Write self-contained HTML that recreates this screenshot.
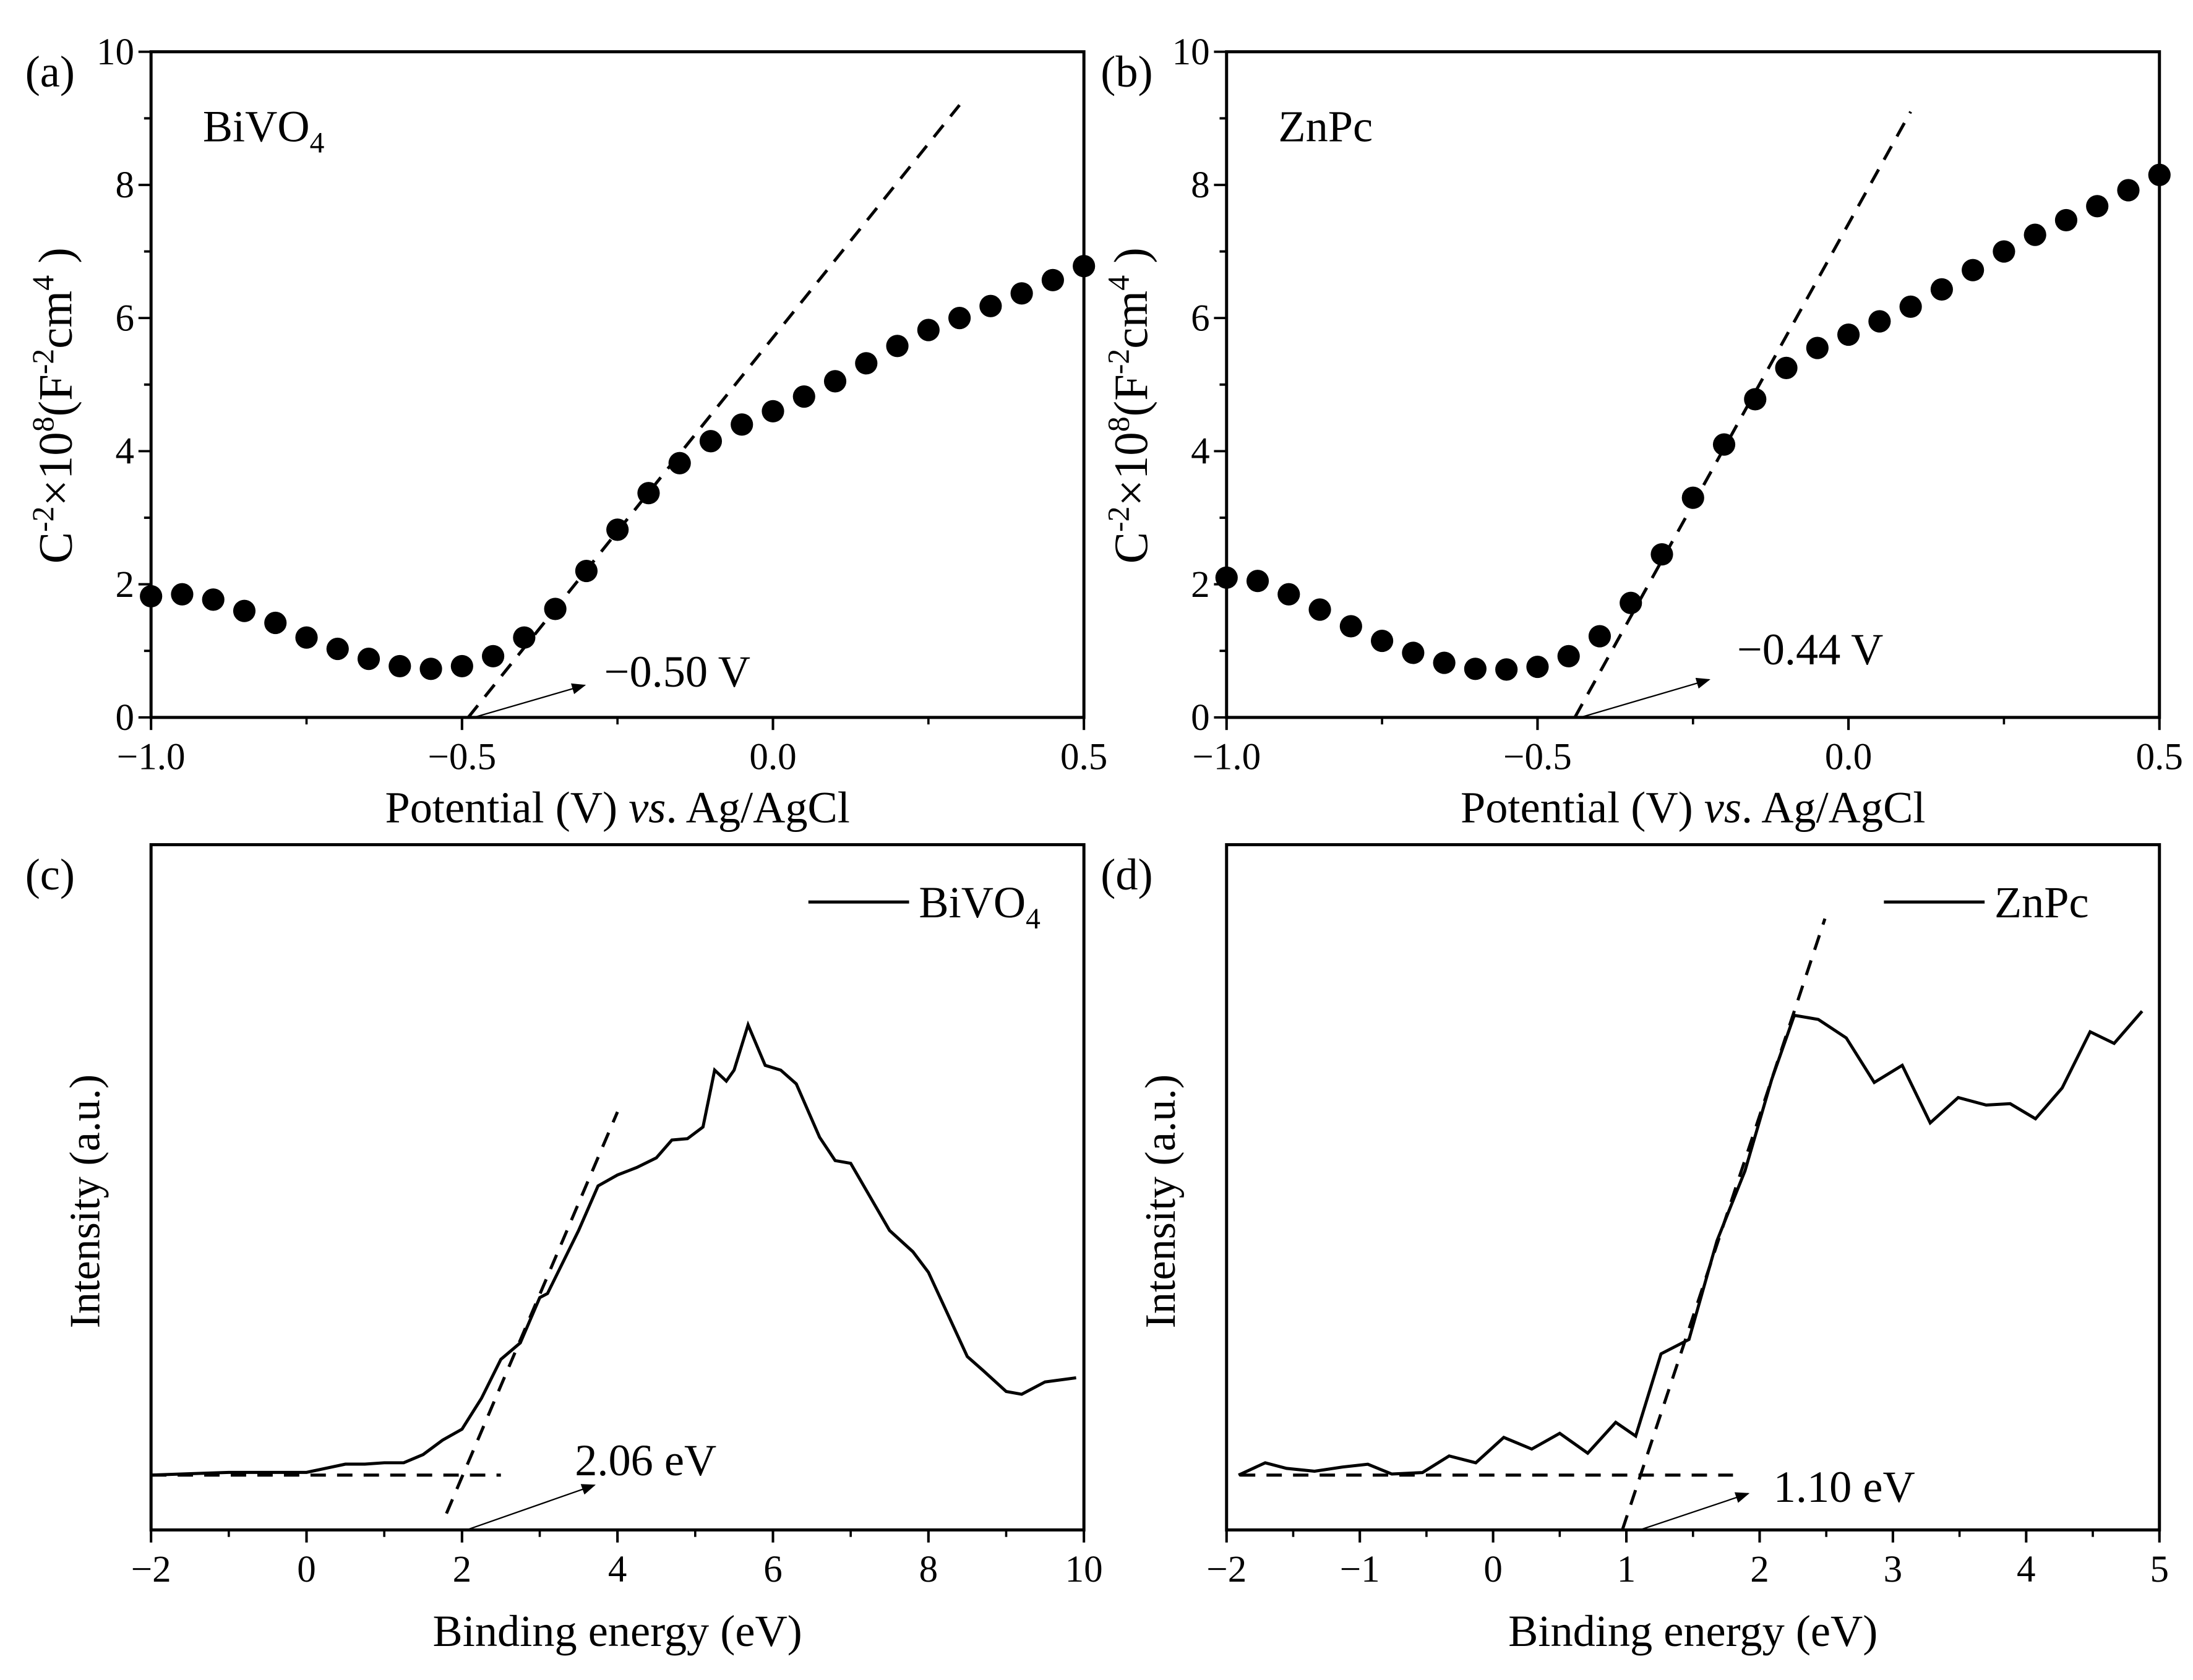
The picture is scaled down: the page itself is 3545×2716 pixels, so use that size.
<!DOCTYPE html>
<html><head><meta charset="utf-8">
<style>
html,body{margin:0;padding:0;background:#fff;}
svg{display:block;}
text{font-family:"Liberation Serif",serif;fill:#000;}
</style></head>
<body>
<svg id="fig" width="3545" height="2716" viewBox="0 0 1568 1201.3" xmlns="http://www.w3.org/2000/svg">
<defs>
<marker id="arr" markerWidth="10" markerHeight="8" refX="9" refY="4" orient="auto" markerUnits="userSpaceOnUse">
<path d="M0,0 L10,4 L0,8 Z" fill="#000"/>
</marker>
</defs>
<g id="root"></g>
</svg>
<script>
// Panel (a) BiVO4 Mott-Schottky
const aPotential = [-1.0,-0.95,-0.9,-0.85,-0.8,-0.75,-0.7,-0.65,-0.6,-0.55,-0.5,-0.45,-0.4,-0.35,-0.3,-0.25,-0.2,-0.15,-0.1,-0.05,0,0.05,0.1,0.15,0.2,0.25,0.3,0.35,0.4,0.45,0.5];
const aValues = [1.82,1.85,1.77,1.6,1.42,1.2,1.03,0.88,0.77,0.73,0.77,0.92,1.2,1.63,2.2,2.82,3.37,3.82,4.15,4.4,4.6,4.82,5.05,5.32,5.58,5.82,6.0,6.18,6.37,6.57,6.78];
const aFitX = [-0.49,0.3];
const aFitY = [0,9.2];
// Panel (b) ZnPc Mott-Schottky
const bPotential = aPotential.slice();
const bValues = [2.1,2.05,1.85,1.62,1.37,1.15,0.97,0.82,0.73,0.72,0.76,0.92,1.22,1.72,2.45,3.3,4.1,4.78,5.25,5.55,5.75,5.95,6.17,6.43,6.72,7.0,7.25,7.47,7.68,7.92,8.15];
const bFitX = [-0.44,0.1];
const bFitY = [0,9.1];
const msXTicks = [-1.0,-0.5,0.0,0.5];
const msXTickLabels = ["\u22121.0","\u22120.5","0.0","0.5"];
const msYTicks = [0,2,4,6,8,10];
// Panel (c) BiVO4 VB-XPS
const cEnergy = [-2,-1.5,-1,-0.5,0,0.25,0.5,0.75,1,1.25,1.5,1.75,2,2.25,2.5,2.75,3,3.1,3.5,3.75,4,4.25,4.5,4.7,4.9,5.1,5.25,5.4,5.5,5.68,5.9,6.1,6.3,6.6,6.8,7,7.5,7.8,8,8.5,8.7,9,9.2,9.5,9.9];
const cIntensity = [8.0,8.2,8.4,8.4,8.4,9.0,9.6,9.6,9.8,9.8,11.0,13.1,14.7,19.2,24.9,27.3,33.9,34.5,43.7,50.2,51.8,52.9,54.3,56.9,57.1,58.8,67.1,65.5,67.1,73.7,67.8,67.1,65.1,57.3,53.9,53.5,43.7,40.6,37.6,25.3,23.3,20.2,19.8,21.6,22.2];
const cBaseX = [-2,2.5];
const cBaseY = [8.0,8.0];
const cFitX = [1.8,4.0];
const cFitY = [2.4,61.0];
const cXTicks = [-2,0,2,4,6,8,10];
const cXTickLabels = ["\u22122","0","2","4","6","8","10"];
// Panel (d) ZnPc VB-XPS
const dEnergy = [-1.91,-1.71,-1.55,-1.34,-1.13,-0.94,-0.76,-0.53,-0.33,-0.13,0.08,0.29,0.50,0.71,0.92,1.07,1.26,1.47,1.68,1.89,2.09,2.26,2.44,2.65,2.86,3.07,3.28,3.49,3.70,3.88,4.07,4.27,4.48,4.66,4.87];
const dIntensity = [8.0,9.8,8.98,8.57,9.18,9.59,8.16,8.37,10.8,9.8,13.5,11.8,14.1,11.2,15.7,13.7,25.7,27.8,42.2,52.4,65.7,75.1,74.5,71.8,65.3,67.8,59.4,63.1,62.0,62.2,60.0,64.5,72.7,71.0,75.7];
const dBaseX = [-1.9,1.8];
const dBaseY = [8.0,8.0];
const dFitX = [0.97,2.49];
const dFitY = [0,89.2];
const dXTicks = [-2,-1,0,1,2,3,4,5];
const dXTickLabels = ["\u22122","\u22121","0","1","2","3","4","5"];

const NS="http://www.w3.org/2000/svg";
const root=document.getElementById('root');
function mk(tag,attrs,parent){const e=document.createElementNS(NS,tag);for(const k in attrs)e.setAttribute(k,attrs[k]);(parent||root).appendChild(e);return e;}
function scale(d0,d1,r0,r1){return v=>r0+(v-d0)/(d1-d0)*(r1-r0);}

function frame(g,L,R,T,B){
  const r=mk('rect',{x:L,y:T,width:R-L,height:B-T,fill:'none',stroke:'#000','stroke-width':2.2},g);
  
  
}
function xAxis(g,sx,B,ticks,labels,minorStep,lo,hi){
  for(let v=lo;v<=hi+1e-9;v+=minorStep){
    const t=mk('line',{x1:sx(v),x2:sx(v),y1:B,y2:B+5,stroke:'#000','stroke-width':1.6},g);
    
    
  }
  ticks.forEach((v,i)=>{
    const t=mk('line',{x1:sx(v),x2:sx(v),y1:B,y2:B+9,stroke:'#000','stroke-width':1.8},g);
    
    
    const tx=mk('text',{x:sx(v),y:B+37,'font-size':27,'text-anchor':'middle'},g);
    tx.textContent=labels[i];
    
    
  });
}
function xTitle(g,x,y,html){
  const t=mk('text',{x:x,y:y,'font-size':32,'text-anchor':'middle'},g);
  t.innerHTML=html;
  
  
}
function polyline(g,xs,ys,sx,sy,attrs,name){
  const pts=xs.map((x,i)=>sx(x).toFixed(2)+','+sy(ys[i]).toFixed(2)).join(' ');
  const p=mk('polyline',Object.assign({points:pts,fill:'none'},attrs),g);
  
  
  return p;
}
function arrow(g,x1,y1,x2,y2){
  const l=mk('line',{x1:x1,y1:y1,x2:x2,y2:y2,stroke:'#000','stroke-width':1,'marker-end':'url(#arr)'},g);
  
  
}
function label(g,x,y,txt,size,name,anchor){
  const t=mk('text',{x:x,y:y,'font-size':size,'text-anchor':anchor||'start'},g);
  t.innerHTML=txt;
  
  
  return t;
}

function msPanel(id,L,R,T,B,xs,ys,fx,fy,letter,sample,onsetTxt,arrowPx,onsetPos,sampleSub){
  const g=mk('g',{});
  
  
  const sx=scale(-1,0.5,L,R), sy=scale(0,10,B,T);
  frame(g,L,R,T,B);
  xAxis(g,sx,B,msXTicks,msXTickLabels,0.25,-1,0.5);
  for(let v=0;v<=10;v+=1){
    const major=v%2===0;
    const t=mk('line',{x1:L,x2:L-(major?9:5),y1:sy(v),y2:sy(v),stroke:'#000','stroke-width':1.7},g);
    
    
  }
  msYTicks.forEach(v=>{
    const t=mk('text',{x:L-12,y:sy(v)+9,'font-size':27,'text-anchor':'end'},g);
    t.textContent=String(v);
    
    
  });
  const yt=mk('text',{x:0,y:0,'font-size':34,'text-anchor':'middle',transform:`translate(${L-57},${(T+B)/2+15}) rotate(-90)`},g);
  yt.innerHTML='C<tspan dy="-13" font-size="22">-2</tspan><tspan dy="13">×10</tspan><tspan dy="-13" font-size="22">8</tspan><tspan dy="13">(F</tspan><tspan dy="-13" font-size="22">-2</tspan><tspan dy="13">cm</tspan><tspan dy="-13" font-size="22">4</tspan><tspan dy="13"> )</tspan>';
  
  
  xTitle(g,(L+R)/2,B+75,'Potential (V) <tspan font-style="italic">vs</tspan>. Ag/AgCl');
  polyline(g,fx,fy,sx,sy,{stroke:'#000','stroke-width':2.2,'stroke-dasharray':'11,8'},'tangent-fit-line');
  xs.forEach((x,i)=>{
    const c=mk('circle',{cx:sx(x),cy:sy(ys[i]),r:8,fill:'#000'},g);
    
    
  });
  arrow(g,sx(fx[0])+4,B,arrowPx[0],arrowPx[1]);
  label(g,onsetPos[0],onsetPos[1],onsetTxt,32,'onset-label');
  label(g,L-90,T+25,letter,32,'panel-label');
  label(g,L+37,T+64,sample+(sampleSub?'<tspan dy="8" font-size="21">'+sampleSub+'</tspan>':''),32,'sample-label');
}

function xpsPanel(id,L,R,T,B,xmin,xmax,ticks,tickLabels,xs,ys,bx,by,fx,fy,letter,legend,legendSub,onsetTxt,arrowTo,onsetPos,onsetX){
  const g=mk('g',{});
  
  
  const sx=scale(xmin,xmax,L,R), sy=scale(0,100,B,T);
  frame(g,L,R,T,B);
  xAxis(g,sx,B,ticks,tickLabels,(ticks[1]-ticks[0])/2,xmin,xmax);
  xTitle(g,(L+R)/2,B+83,'Binding energy (eV)');
  const yt=mk('text',{x:0,y:0,'font-size':31,'text-anchor':'middle',transform:`translate(${L-37},${(T+B)/2+10}) rotate(-90)`},g);
  yt.textContent='Intensity (a.u.)';
  
  
  polyline(g,bx,by,sx,sy,{stroke:'#000','stroke-width':2.2,'stroke-dasharray':'11,8'},'baseline-fit-line');
  polyline(g,fx,fy,sx,sy,{stroke:'#000','stroke-width':2.2,'stroke-dasharray':'11,8'},'tangent-fit-line');
  polyline(g,xs,ys,sx,sy,{stroke:'#000','stroke-width':2.2,'stroke-linejoin':'miter'},'spectrum-line');
  arrow(g,sx(onsetX),B,arrowTo[0],arrowTo[1]);
  label(g,onsetPos[0],onsetPos[1],onsetTxt,32,'onset-label');
  label(g,L-90,T+32,letter,32,'panel-label');
  const lg=mk('g',{},g);
  
  
  const ll=mk('line',{x1:R-197,x2:R-125,y1:T+41,y2:T+41,stroke:'#000','stroke-width':2.2},lg);
  
  
  label(lg,R-118,T+52,legend+(legendSub?'<tspan dy="8" font-size="21">'+legendSub+'</tspan>':''),32,'legend-label');
}

msPanel('a',108,775,37,513,aPotential,aValues,aFitX,aFitY,'(a)','BiVO',"\u22120.50 V",[418,490],[432,491],'4');
msPanel('b',877,1544,37,513,bPotential,bValues,bFitX,bFitY,'(b)','ZnPc',"\u22120.44 V",[1222,486],[1242,475],'');
xpsPanel('c',108,775,604,1094,-2,10,cXTicks,cXTickLabels,cEnergy,cIntensity,cBaseX,cBaseY,cFitX,cFitY,'(c)','BiVO','4',"2.06 eV",[425,1062],[411,1055],2.06);
xpsPanel('d',877,1544,604,1094,-2,5,dXTicks,dXTickLabels,dEnergy,dIntensity,dBaseX,dBaseY,dFitX,dFitY,'(d)','ZnPc','',"1.10 eV",[1250,1068],[1268,1074],1.10);
</script>
</body></html>
